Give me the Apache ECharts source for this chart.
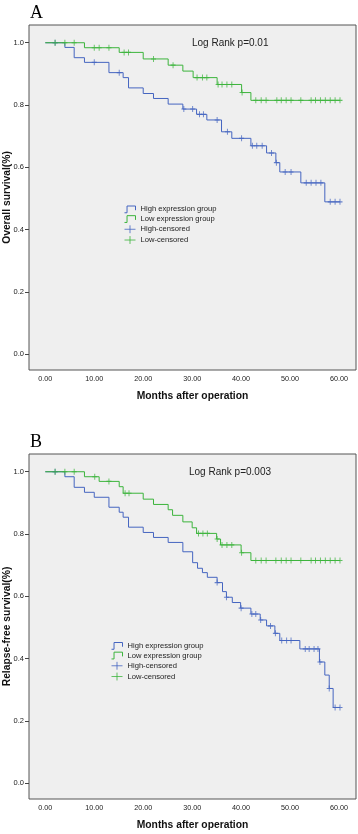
<!DOCTYPE html>
<html>
<head>
<meta charset="utf-8">
<script src="https://cdn.jsdelivr.net/npm/echarts@6/dist/echarts.min.js"></script>
<style>
  html, body { margin: 0; padding: 0; background: #fff; }
  #chart { width: 358px; height: 834px; }
</style>
</head>
<body>
<div id="chart"></div>
<script>
// Kaplan-Meier curves: [month, survival] at each drop, last point = end of follow-up
const osHighSteps = [[0, 1], [4.0, 0.985], [5.9, 0.952], [8.0, 0.937], [13.0, 0.904], [15.9, 0.888], [17.0, 0.855],
  [20.0, 0.837], [22.1, 0.821], [25.1, 0.803], [28.1, 0.787], [30.9, 0.770], [33.0, 0.752], [36.0, 0.714],
  [38.1, 0.693], [42.0, 0.669], [45.2, 0.646], [47.1, 0.615], [47.9, 0.585], [52.2, 0.550], [57.1, 0.489], [60.2, 0.489]];
const osLowSteps = [[0, 1], [8.0, 0.984], [15.1, 0.969], [20.0, 0.948], [25.1, 0.928], [28.1, 0.909], [30.2, 0.888],
  [35.1, 0.866], [40.1, 0.840], [42.0, 0.815], [60.2, 0.815]];
// censored times (months)
const osHighCensored = [2.0, 10.0, 15.1, 28.3, 30.1, 31.5, 32.3, 35.1, 37.2, 40.1, 42.3, 43.2, 44.3, 46.2, 47.2,
  49.0, 50.2, 53.3, 54.3, 55.3, 56.3, 58.2, 59.2, 60.2];
const osLowCensored = [2.0, 4.0, 5.9, 10.0, 11.0, 13.0, 16.1, 17.0, 22.1, 26.1, 31.0, 32.1, 33.0, 35.3, 36.1, 37.1,
  38.1, 40.2, 43.0, 44.1, 45.1, 47.3, 48.2, 49.2, 50.2, 52.2, 54.3, 55.2, 56.2, 57.2, 58.2, 59.2, 60.2];

const rfsHighSteps = [[0, 1], [4.0, 0.984], [5.9, 0.950], [8.0, 0.934], [10.0, 0.918], [13.0, 0.886], [15.1, 0.870],
  [15.9, 0.854], [17.0, 0.822], [20.0, 0.805], [22.1, 0.789], [25.1, 0.773], [28.1, 0.743], [30.1, 0.708],
  [31.1, 0.690], [32.1, 0.676], [33.1, 0.661], [35.1, 0.644], [36.2, 0.615], [37.0, 0.597], [38.2, 0.580],
  [39.9, 0.562], [42.0, 0.543], [43.9, 0.524], [45.2, 0.505], [46.9, 0.481], [47.9, 0.458], [52.0, 0.431],
  [56.0, 0.389], [57.1, 0.347], [58.0, 0.304], [58.8, 0.243], [60.2, 0.243]];
const rfsLowSteps = [[0, 1], [8.0, 0.984], [11.0, 0.969], [15.1, 0.952], [15.9, 0.931], [20.0, 0.912], [22.1, 0.895],
  [25.1, 0.878], [26.0, 0.860], [28.1, 0.839], [30.0, 0.820], [30.9, 0.802], [35.0, 0.784], [35.8, 0.765],
  [40.0, 0.740], [42.0, 0.715], [60.2, 0.715]];
const rfsHighCensored = [2.0, 35.1, 37.0, 40.0, 42.2, 43.0, 44.0, 46.0, 47.0, 48.3, 49.3, 50.2, 53.1, 53.9, 54.9,
  55.7, 56.1, 58.0, 59.2, 60.2];
const rfsLowCensored = [2.0, 4.0, 5.9, 10.1, 13.0, 16.3, 17.1, 31.3, 32.2, 33.1, 35.1, 36.1, 37.1, 38.1, 40.1, 43.0,
  44.1, 45.1, 47.1, 48.2, 49.2, 50.2, 52.2, 54.3, 55.2, 56.2, 57.2, 58.2, 59.2, 60.2];

const xTicks = [0, 10, 20, 30, 40, 50, 60];
const yTicks = [0, 0.2, 0.4, 0.6, 0.8, 1.0];
const seriesNames = ['High expression group', 'Low expression group', 'High-censored', 'Low-censored'];
const panelLetters = ['A', 'B'];
const logRankTexts = ['Log Rank p=0.01', 'Log Rank p=0.003'];
const yAxisTitles = ['Overall survival(%)', 'Relapse-free survival(%)'];
const xAxisTitle = 'Months after operation';

const BLUE = '#4565c0';
const GREEN = '#3cb43c';
const SANS = '"Liberation Sans", Arial, sans-serif';

// survival level at time t (step function)
function levelAt(steps, t) {
  let s = steps[0][1];
  steps.forEach(p => { if (p[0] <= t) s = p[1]; });
  return s;
}

const panels = [
  { high: osHighSteps, low: osLowSteps, highC: osHighCensored, lowC: osLowCensored, top: 25, legendLeft: 122, legendTop: 203.5 },
  { high: rfsHighSteps, low: rfsLowSteps, highC: rfsHighCensored, lowC: rfsLowCensored, top: 454, legendLeft: 109, legendTop: 640 }
];

const plusIcon = 'path://M0,5H14M7,0V10';
const stepIcon = 'path://M0,9H3V1H13V6';
const censorSymbol = 'path://M5,0V10M0,5H10';

const grids = [], xAxes = [], yAxes = [], series = [], legends = [], graphics = [];

panels.forEach((p, i) => {
  grids.push({
    left: 29, top: p.top, width: 327, height: 345,
    containLabel: false, outerBoundsMode: 'none',
    show: true, backgroundColor: '#efefef', borderColor: '#555', borderWidth: 1
  });
  xAxes.push({
    gridIndex: i, type: 'value', min: -3.33, max: 63.47,
    axisLine: { show: false, onZero: false }, splitLine: { show: false },
    axisTick: { show: false },
    axisLabel: { customValues: xTicks, formatter: v => v.toFixed(2), fontSize: 7.2, color: '#222', margin: 6, fontFamily: SANS },
    name: xAxisTitle, nameLocation: 'middle', nameGap: 21, nameMoveOverlap: false,
    nameTextStyle: { fontWeight: 'bold', fontSize: 10.3, color: '#111', fontFamily: SANS }
  });
  yAxes.push({
    gridIndex: i, type: 'value', min: -0.051, max: 1.057,
    axisLine: { show: false, onZero: false }, splitLine: { show: false },
    axisTick: { show: true, length: 4, customValues: yTicks, lineStyle: { color: '#444' } },
    axisLabel: { customValues: yTicks, formatter: v => v.toFixed(1), fontSize: 7.5, color: '#222', margin: 5, fontFamily: SANS },
    name: yAxisTitles[i], nameLocation: 'middle', nameGap: 17, nameMoveOverlap: false,
    nameTextStyle: { fontWeight: 'bold', fontSize: 10.3, color: '#111', fontFamily: SANS }
  });

  const lineBase = { type: 'line', step: 'end', symbol: 'none', xAxisIndex: i, yAxisIndex: i, z: 3 };
  series.push(Object.assign({ name: seriesNames[0], data: p.high, lineStyle: { color: BLUE, width: 1 }, itemStyle: { color: BLUE } }, lineBase));
  series.push(Object.assign({ name: seriesNames[1], data: p.low, lineStyle: { color: GREEN, width: 1 }, itemStyle: { color: GREEN } }, lineBase));

  const scatterBase = { type: 'scatter', symbol: censorSymbol, symbolSize: [5, 6], xAxisIndex: i, yAxisIndex: i, z: 4 };
  series.push(Object.assign({
    name: seriesNames[2], data: p.highC.map(t => [t, levelAt(p.high, t)]),
    itemStyle: { color: 'none', borderColor: BLUE, borderWidth: 1 }
  }, scatterBase));
  series.push(Object.assign({
    name: seriesNames[3], data: p.lowC.map(t => [t, levelAt(p.low, t)]),
    itemStyle: { color: 'none', borderColor: GREEN, borderWidth: 1 }
  }, scatterBase));

  legends.push({
    orient: 'vertical', left: p.legendLeft, top: p.legendTop, padding: 0,
    itemWidth: 11, itemHeight: 8, itemGap: -2.1, selectedMode: false,
    textStyle: { fontSize: 7.6, lineHeight: 8, color: '#222', fontFamily: SANS },
    data: [
      { name: seriesNames[0], icon: stepIcon, itemStyle: { color: 'none', borderColor: BLUE, borderWidth: 1 } },
      { name: seriesNames[1], icon: stepIcon, itemStyle: { color: 'none', borderColor: GREEN, borderWidth: 1 } },
      { name: seriesNames[2], icon: plusIcon, itemStyle: { color: 'none', borderColor: BLUE, borderWidth: 1 } },
      { name: seriesNames[3], icon: plusIcon, itemStyle: { color: 'none', borderColor: GREEN, borderWidth: 1 } }
    ]
  });

  graphics.push({
    type: 'text', left: 30, top: p.top - 21,
    style: { text: panelLetters[i], font: '18px "Liberation Serif", serif', fill: '#000' }
  });
  graphics.push({
    type: 'text', left: i === 0 ? 192 : 189, top: p.top + 13.5,
    style: { text: logRankTexts[i], font: '10px ' + SANS, fill: '#222' }
  });
});

const chart = echarts.init(document.getElementById('chart'));
chart.setOption({
  animation: false,
  backgroundColor: '#fff',
  grid: grids,
  xAxis: xAxes,
  yAxis: yAxes,
  legend: legends,
  graphic: graphics,
  series: series
});
</script>
</body>
</html>
